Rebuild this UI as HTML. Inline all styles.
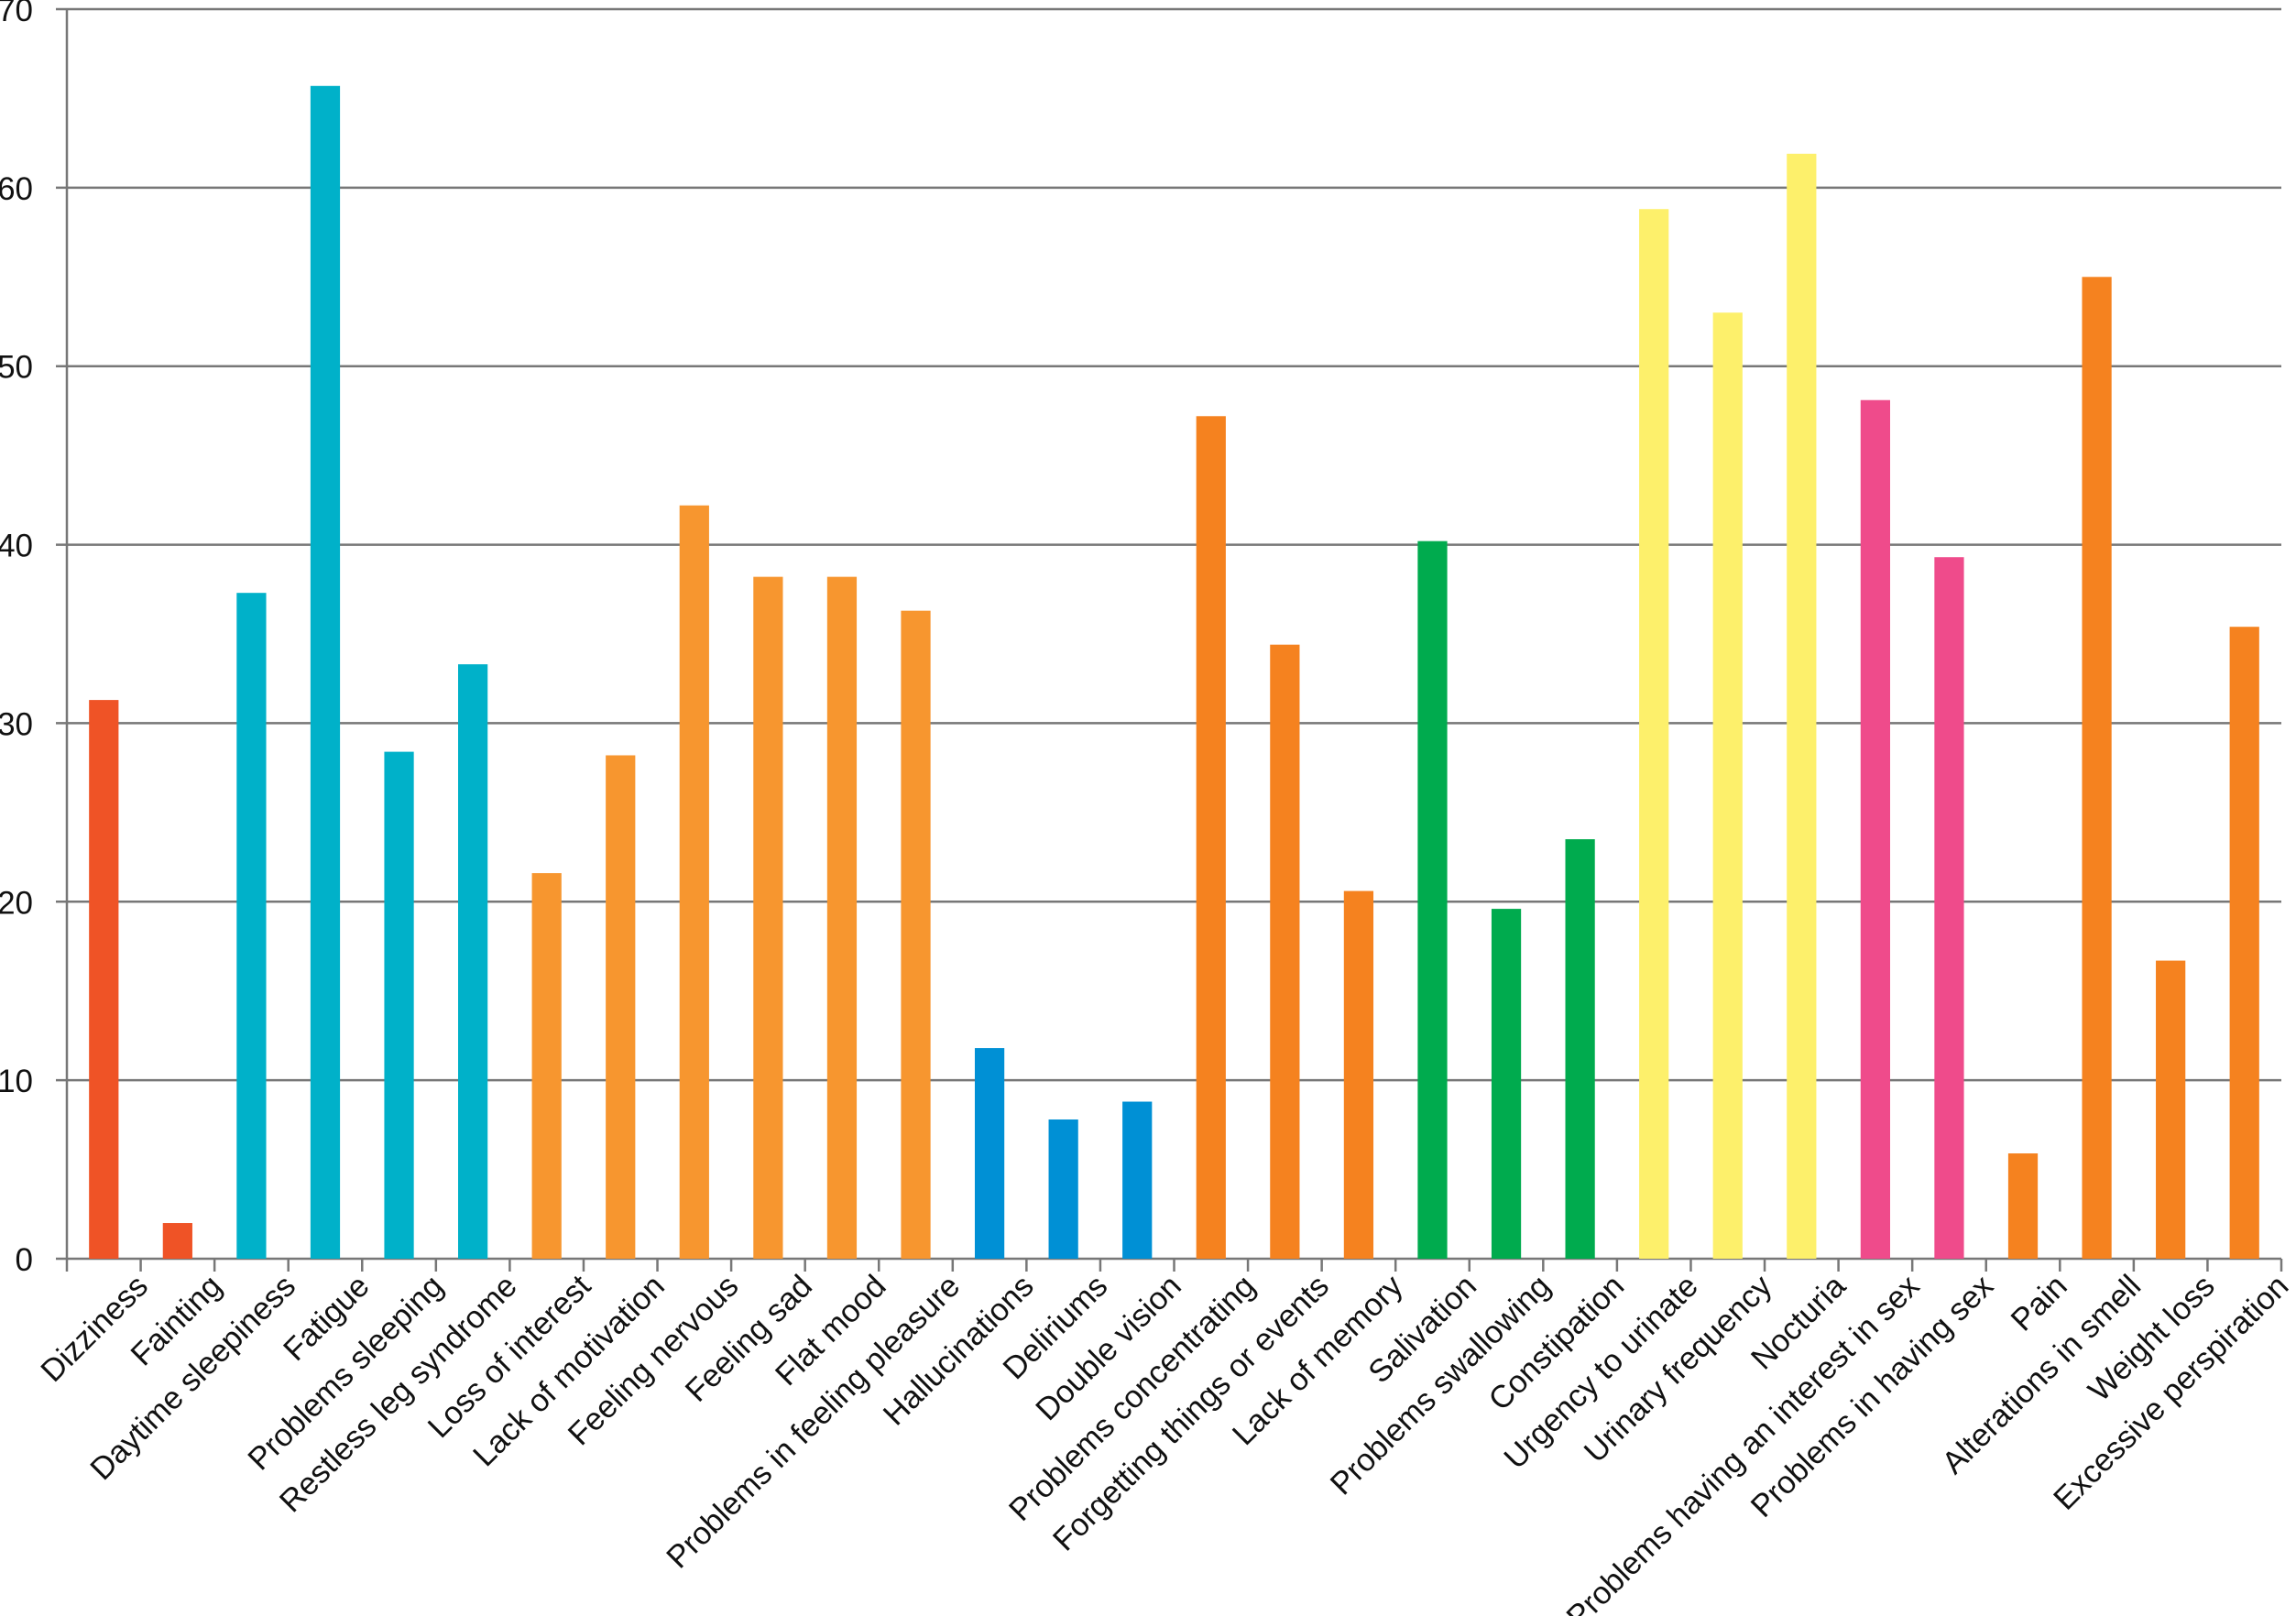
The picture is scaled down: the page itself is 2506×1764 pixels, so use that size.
<!DOCTYPE html>
<html><head><meta charset="utf-8"><style>
html,body{margin:0;padding:0;background:#fff;}
svg{display:block;font-family:"Liberation Sans",Arial,sans-serif;}
</style></head><body>
<svg id="chart" width="2506" height="1764" viewBox="0 0 2506 1764" xmlns="http://www.w3.org/2000/svg"></svg>
<script>
const categories=["Dizziness","Fainting","Daytime sleepiness","Fatigue","Problems sleeping","Restless leg syndrome","Loss of interest","Lack of motivation","Feeling nervous","Feeling sad","Flat mood","Problems in feeling pleasure","Hallucinations","Deliriums","Double vision","Problems concentrating","Forgetting things or events","Lack of memory","Salivation","Problems swallowing","Constipation","Urgency to urinate","Urinary frequency","Nocturia","Problems having an interest in sex","Problems in having sex","Pain","Alterations in smell","Weight loss","Excessive perspiration"];
const values=[31.3,2,37.3,65.7,28.4,33.3,21.6,28.2,42.2,38.2,38.2,36.3,11.8,7.8,8.8,47.2,34.4,20.6,40.2,19.6,23.5,58.8,53,61.9,48.1,39.3,5.9,55,16.7,35.4];
const groups=[0,0,1,1,1,1,2,2,2,2,2,2,3,3,3,4,4,4,5,5,5,6,6,6,7,7,8,8,8,8];
const groupColors=["#ef5326","#00b1c9","#f7962f","#0090d5","#f5821f","#00ab4e","#fdf06b","#ef4b8b","#f5821f"];
const yTicks=[0,10,20,30,40,50,60,70];

const NS="http://www.w3.org/2000/svg";
const svg=document.getElementById('chart');
const X0=73,X1=2490,Y0=1374,Y70=10,YMAX=70;
const band=(X1-X0)/categories.length;
function y(v){return Y0-(v/YMAX)*(Y0-Y70);}
function xc(i){return X0+band*(i+0.5);}
function mk(t,a){const e=document.createElementNS(NS,t);for(const k in a)e.setAttribute(k,a[k]);svg.appendChild(e);return e;}

yTicks.forEach(t=>{
  const g=mk('line',{x1:X0-12,x2:X1,y1:y(t),y2:y(t),stroke:'#777',"stroke-width":2.5});
  
  
  const tx=mk('text',{x:36,y:y(t)+13,"text-anchor":"end","font-size":35,fill:'#111'});
  tx.textContent=t;
  
  
});
const ax=mk('line',{x1:X0,x2:X0,y1:Y70,y2:Y0,stroke:'#777',"stroke-width":2.5});



for(let i=0;i<=categories.length;i++){
  const tk=mk('line',{x1:X0+band*i,x2:X0+band*i,y1:Y0,y2:Y0+14,stroke:'#777',"stroke-width":2.5});
  
  
}
const bw=band*0.4;
categories.forEach((c,i)=>{
  const v=values[i];
  const r=mk('rect',{x:xc(i)-bw/2,y:y(v),width:bw,height:Y0-y(v),fill:groupColors[groups[i]]});
  
  
  const cx=xc(i)+50, cy=Y0+32;
  const t=mk('text',{x:cx,y:cy,"text-anchor":"end","font-size":34.5,fill:'#111',transform:`rotate(-45 ${cx} ${cy})`});
  t.textContent=c;
  
  
});
</script>
</body></html>
